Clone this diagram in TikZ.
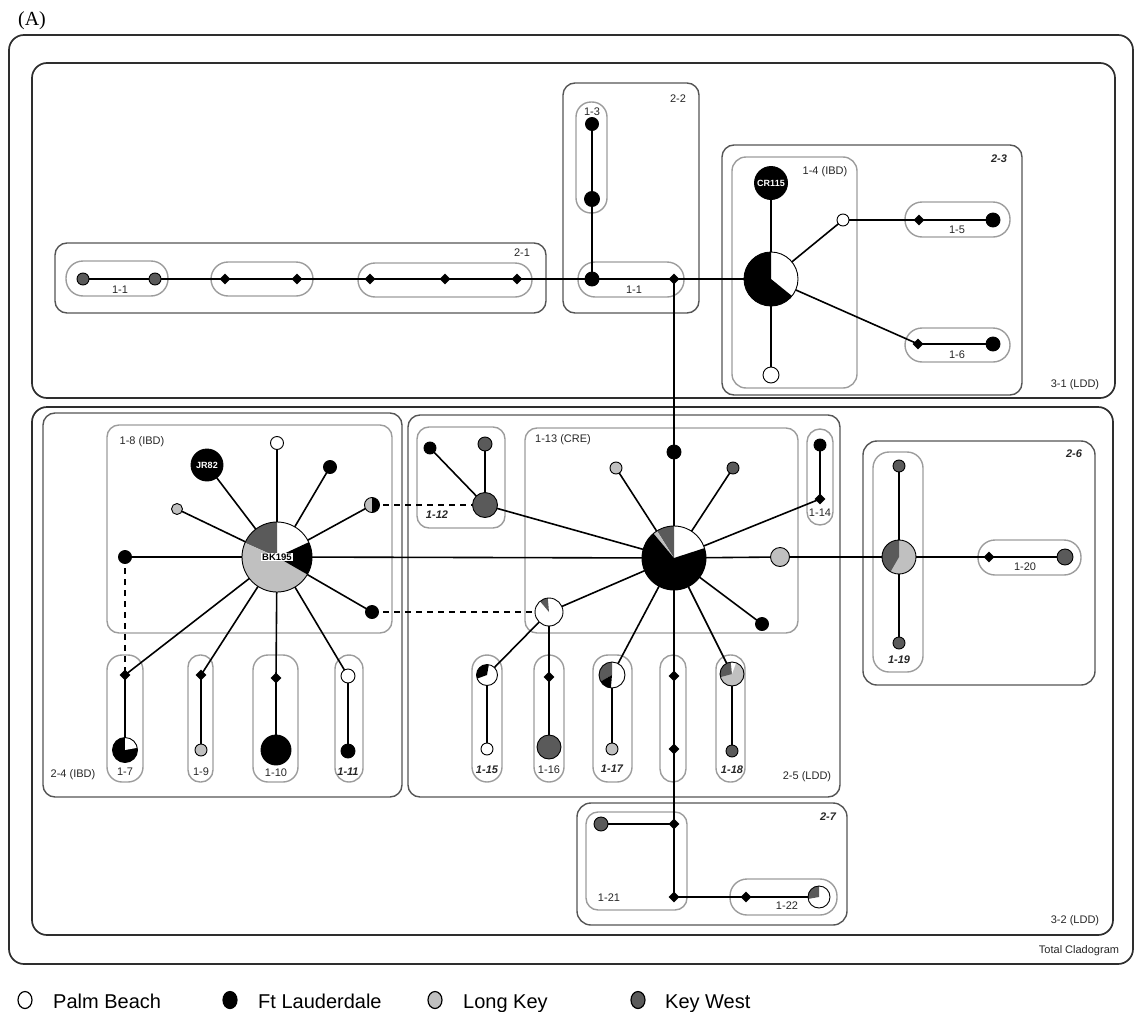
\documentclass[tikz,border=0pt]{standalone}
\usepackage{fontspec}
\setmainfont{Liberation Sans}
\newfontfamily\serifA{Liberation Serif}
\usetikzlibrary{shapes.geometric}
\definecolor{kw}{HTML}{5A5A5A}
\definecolor{lk}{HTML}{C0C0C0}
\definecolor{bxA}{HTML}{2E2E2E}
\definecolor{bxB}{HTML}{555555}
\definecolor{bxC}{HTML}{9C9C9C}
\newcommand{\sct}[3]{\fill[#3] (path picture bounding box.center) -- ++(#1:50pt) arc[start angle=#1,end angle=#2,radius=50pt] -- cycle;}
\pgfdeclarelayer{bg}
\pgfsetlayers{bg,main}
\begin{document}
\begin{tikzpicture}[x=1pt,y=-1pt,
  hap/.style={circle,draw=black,line width=0.9pt,inner sep=0pt,minimum size=#1},
  hap/.default=12pt,
  dmd/.style={diamond,fill=black,inner sep=0pt,minimum width=11pt,minimum height=11pt},
  conn/.style={line width=1.6pt},
  dconn/.style={line width=1.6pt,dash pattern=on 6pt off 5pt},
  bA/.style={draw=bxA,line width=1.7pt},
  bB/.style={draw=bxB,line width=1.4pt},
  bC/.style={draw=bxC,line width=1.4pt},
  lab/.style={font=\fontsize{11}{12}\selectfont,text=black!85,inner sep=0pt},
  labbi/.style={font=\fontsize{11}{12}\selectfont\bfseries\itshape,text=black!85,inner sep=0pt},
  inlab/.style={font=\fontsize{9}{9}\selectfont\bfseries,text=white,inner sep=0pt},
  legc/.style={ellipse,draw=black,line width=1.2pt,minimum width=14pt,minimum height=17pt,inner sep=0pt},
  legt/.style={anchor=base west,inner sep=0pt,font=\fontsize{20}{22}\selectfont}]
\useasboundingbox (0,0) rectangle (1136,1012);

% ---------- nodes: top part ----------
\node[hap,fill=kw] (a1) at (83,279) {};
\node[hap,fill=kw] (a2) at (155,279) {};
\node[dmd] (a3) at (225,279) {};
\node[dmd] (a4) at (297,279) {};
\node[dmd] (a5) at (370,279) {};
\node[dmd] (a6) at (445,279) {};
\node[dmd] (a7) at (517,279) {};
\node[hap=14pt,fill=black] (b1) at (592,279) {};
\node[hap=15pt,fill=black] (b2) at (592,199) {};
\node[hap=13pt,fill=black] (b3) at (592,124) {};
\node[dmd] (b4) at (674,279) {};
\node[hap=54pt,fill=white,path picture={\sct{90}{321}{black}}] (c1) at (771,279) {};
\node[hap=33pt,fill=black,inlab] (c2) at (771,183) {CR115};
\node[hap=16pt,fill=white] (c3) at (771,375) {};
\node[hap=12pt,fill=white] (c4) at (843,220) {};
\node[dmd] (c5) at (919,220) {};
\node[hap=14pt,fill=black] (c6) at (993,220) {};
\node[dmd] (c7) at (918,344) {};
\node[hap=14pt,fill=black] (c8) at (993,344) {};

% ---------- nodes: 2-4 ----------
\node[hap=70pt,fill=white,path picture={\sct{90}{156}{kw}\sct{156}{330}{lk}\sct{330}{385}{black}}] (d0) at (277,557) {};
\node[fill=white,inner sep=1pt,font=\fontsize{9.5}{9.5}\selectfont\bfseries] (d0l) at (277,557) {BK195};
\node[hap=32pt,fill=black,inlab] (d1) at (207,465) {JR82};
\node[hap=13pt,fill=white] (d2) at (277,443) {};
\node[hap=13pt,fill=black] (d3) at (330,467) {};
\node[hap=15pt,fill=lk,path picture={\sct{270}{450}{black}}] (d4) at (372,505) {};
\node[hap=11pt,fill=lk] (d5) at (177,509) {};
\node[hap=13pt,fill=black] (d6) at (125,557) {};
\node[hap=13pt,fill=black] (d7) at (372,612) {};
\node[dmd] (e1) at (125,675) {};
\node[hap=25pt,fill=black,path picture={\sct{10}{90}{white}}] (e2) at (125,750) {};
\node[dmd] (e3) at (201,675) {};
\node[hap=12pt,fill=lk] (e4) at (201,750) {};
\node[dmd] (e5) at (276,678) {};
\node[hap=30pt,fill=black] (e6) at (276,750) {};
\node[hap=14pt,fill=white] (e7) at (348,676) {};
\node[hap=14pt,fill=black] (e8) at (348,751) {};

% ---------- nodes: 2-5 ----------
\node[hap=12pt,fill=black] (f1) at (430,448) {};
\node[hap=14pt,fill=kw] (f2) at (485,444) {};
\node[hap=25pt,fill=kw] (f3) at (485,505) {};
\node[hap=64pt,fill=white,path picture={\sct{90}{122}{kw}\sct{122}{130}{lk}\sct{130}{378}{black}}] (g0) at (674,558) {};
\node[hap=14pt,fill=black] (g1) at (674,452) {};
\node[hap=12pt,fill=lk] (g2) at (616,468) {};
\node[hap=12pt,fill=kw] (g3) at (733,468) {};
\node[dmd] (g4) at (820,499) {};
\node[hap=12pt,fill=black] (g5) at (820,445) {};
\node[hap=19pt,fill=lk] (g6) at (780,557) {};
\node[hap=13pt,fill=black] (g7) at (762,624) {};
\node[hap=28pt,fill=white,path picture={\sct{95}{130}{kw}}] (h0) at (549,612) {};
\node[hap=21pt,fill=white,path picture={\sct{80}{200}{black}}] (h1) at (487,675) {};
\node[hap=12pt,fill=white] (h2) at (487,749) {};
\node[dmd] (h3) at (549,677) {};
\node[hap=24pt,fill=kw] (h4) at (549,747) {};
\node[hap=26pt,fill=white,path picture={\sct{90}{210}{kw}\sct{210}{265}{black}}] (h5) at (612,675) {};
\node[hap=12pt,fill=lk] (h6) at (612,749) {};
\node[dmd] (h7) at (674,676) {};
\node[dmd] (h8) at (674,749) {};
\node[hap=24pt,fill=lk,path picture={\sct{95}{195}{kw}\sct{70}{95}{white}}] (h9) at (732,674) {};
\node[hap=12pt,fill=kw] (h10) at (732,751) {};

% ---------- nodes: 2-6 ----------
\node[hap=34pt,fill=lk,path picture={\sct{90}{240}{kw}}] (i0) at (899,557) {};
\node[hap=12pt,fill=kw] (i1) at (899,466) {};
\node[hap=12pt,fill=kw] (i2) at (899,643) {};
\node[dmd] (i3) at (989,557) {};
\node[hap=16pt,fill=kw] (i4) at (1065,557) {};

% ---------- nodes: 2-7 ----------
\node[hap=14pt,fill=kw] (j1) at (601,824) {};
\node[dmd] (j2) at (674,824) {};
\node[dmd] (j3) at (674,897) {};
\node[dmd] (j4) at (746,897) {};
\node[hap=22pt,fill=white,path picture={\sct{90}{190}{kw}}] (j5) at (819,897) {};

% ---------- labels ----------
\node[font=\fontsize{20}{22}\selectfont\serifA,inner sep=0pt] (tA) at (32,21) {(A)};
\node[lab] (t21) at (522,253) {2-1};
\node[lab] (t22) at (678,99) {2-2};
\node[labbi] (t23) at (999,159) {2-3};
\node[lab] (t14) at (825,172) {1-4 (IBD)};
\node[lab] (t15) at (957,230) {1-5};
\node[lab] (t16) at (957,355) {1-6};
\node[lab] (t31) at (1075,385) {3-1 (LDD)};
\node[lab] (t11a) at (120,290) {1-1};
\node[lab] (t11b) at (634,290) {1-1};
\node[lab] (t13) at (592,112) {1-3};
\node[lab] (t18) at (142,442) {1-8 (IBD)};
\node[lab] (t24) at (73,775) {2-4 (IBD)};
\node[lab] (t17) at (125,772) {1-7};
\node[lab] (t19) at (201,772) {1-9};
\node[lab] (t110) at (276,773) {1-10};
\node[labbi] (t111) at (348,772) {1-11};
\node[labbi] (t112) at (437,515) {1-12};
\node[lab] (t113) at (563,440) {1-13 (CRE)};
\node[lab] (t114) at (820,513) {1-14};
\node[labbi] (t115) at (487,770) {1-15};
\node[lab] (t116) at (549,770) {1-16};
\node[labbi] (t117) at (612,769) {1-17};
\node[labbi] (t118) at (732,770) {1-18};
\node[lab] (t25) at (807,777) {2-5 (LDD)};
\node[labbi] (t26) at (1074,454) {2-6};
\node[labbi] (t119) at (899,660) {1-19};
\node[lab] (t120) at (1025,567) {1-20};
\node[labbi] (t27) at (828,817) {2-7};
\node[lab] (t121) at (609,898) {1-21};
\node[lab] (t122) at (787,906) {1-22};
\node[lab] (t32) at (1075,921) {3-2 (LDD)};
\node[lab] (tT) at (1079,951) {Total Cladogram};

% ---------- legend ----------
\node[legc,fill=white] (k1) at (25,1000) {};
\node[legt] (k1t) at (53,1008) {Palm Beach};
\node[legc,fill=black] (k2) at (230,1000) {};
\node[legt] (k2t) at (258,1008) {Ft Lauderdale};
\node[legc,fill=lk] (k3) at (435,1000) {};
\node[legt] (k3t) at (463,1008) {Long Key};
\node[legc,fill=kw] (k4) at (638,1000) {};
\node[legt] (k4t) at (665,1008) {Key West};

\begin{pgfonlayer}{bg}
% ---------- boxes ----------
\draw[bA,rounded corners=15pt] (9,35) rectangle (1133,964);
\draw[bA,rounded corners=15pt] (32,63) rectangle (1115,398);
\draw[bA,rounded corners=15pt] (32,407) rectangle (1113,935);
% 3-1 contents
\draw[bB,rounded corners=12pt] (55,243) rectangle (546,313);
\draw[bC,rounded corners=17pt] (66,261) rectangle (168,296);
\draw[bC,rounded corners=17pt] (211,262) rectangle (313,296);
\draw[bC,rounded corners=17pt] (358,263) rectangle (532,297);
\draw[bB,rounded corners=12pt] (563,83) rectangle (699,313);
\draw[bC,rounded corners=15pt] (576,102) rectangle (607,213);
\draw[bC,rounded corners=17pt] (578,262) rectangle (684,297);
\draw[bB,rounded corners=12pt] (722,145) rectangle (1022,395);
\draw[bC,rounded corners=14pt] (732,157) rectangle (857,388);
\draw[bC,rounded corners=17pt] (905,202) rectangle (1010,237);
\draw[bC,rounded corners=17pt] (905,328) rectangle (1010,362);
% 2-4
\draw[bB,rounded corners=12pt] (43,413) rectangle (402,797);
\draw[bC,rounded corners=12pt] (107,425) rectangle (392,633);
\draw[bC,rounded corners=15pt] (107,655) rectangle (143,782);
\draw[bC,rounded corners=12pt] (188,655) rectangle (213,782);
\draw[bC,rounded corners=15pt] (253,655) rectangle (298,782);
\draw[bC,rounded corners=14pt] (335,655) rectangle (363,782);
% 2-5
\draw[bB,rounded corners=12pt] (408,415) rectangle (840,797);
\draw[bC,rounded corners=12pt] (417,427) rectangle (505,528);
\draw[bC,rounded corners=12pt] (525,428) rectangle (798,633);
\draw[bC,rounded corners=13pt] (807,429) rectangle (833,525);
\draw[bC,rounded corners=15pt] (472,655) rectangle (502,782);
\draw[bC,rounded corners=15pt] (534,655) rectangle (564,782);
\draw[bC,rounded corners=15pt] (593,655) rectangle (632,782);
\draw[bC,rounded corners=13pt] (660,655) rectangle (686,782);
\draw[bC,rounded corners=14pt] (716,655) rectangle (745,782);
% 2-6
\draw[bB,rounded corners=14pt] (863,441) rectangle (1095,685);
\draw[bC,rounded corners=16pt] (873,452) rectangle (923,672);
\draw[bC,rounded corners=17pt] (978,540) rectangle (1081,575);
% 2-7
\draw[bB,rounded corners=14pt] (577,803) rectangle (847,925);
\draw[bC,rounded corners=12pt] (586,812) rectangle (687,910);
\draw[bC,rounded corners=17pt] (730,879) rectangle (837,915);

% ---------- connectors ----------
\foreach \p/\q in {a1/a2,a2/a3,a3/a4,a4/a5,a5/a6,a6/a7,a7/b1,b1/b4,b4/c1,b3/b2,b2/b1,
  c2/c1,c1/c3,c1/c4,c4/c5,c5/c6,c1/c7,c7/c8,b4/g1,g1/g0,
  d0/d1,d0/d2,d0/d3,d0/d4,d0/d5,d0/d6,d0/d7,d0/g0,d0/e1,d0/e3,d0/e5,d0/e7,
  e1/e2,e3/e4,e5/e6,e7/e8,f1/f3,f2/f3,f3/g0,
  g0/g2,g0/g3,g0/g4,g4/g5,g0/g6,g6/i0,g0/g7,g0/h0,g0/h5,g0/h7,g0/h9,
  h0/h1,h0/h3,h1/h2,h3/h4,h5/h6,h7/h8,h9/h10,
  i0/i1,i0/i2,i0/i3,i3/i4,h8/j2,j1/j2,j2/j3,j3/j4,j4/j5}
  {\draw[conn] (\p.center) -- (\q.center);}
\draw[dconn] (d6.center) -- (e1.center);
\draw[dconn] (d4.center) -- (f3.center);
\draw[dconn] (d7.center) -- (h0.center);
\end{pgfonlayer}
\end{tikzpicture}
\end{document}
